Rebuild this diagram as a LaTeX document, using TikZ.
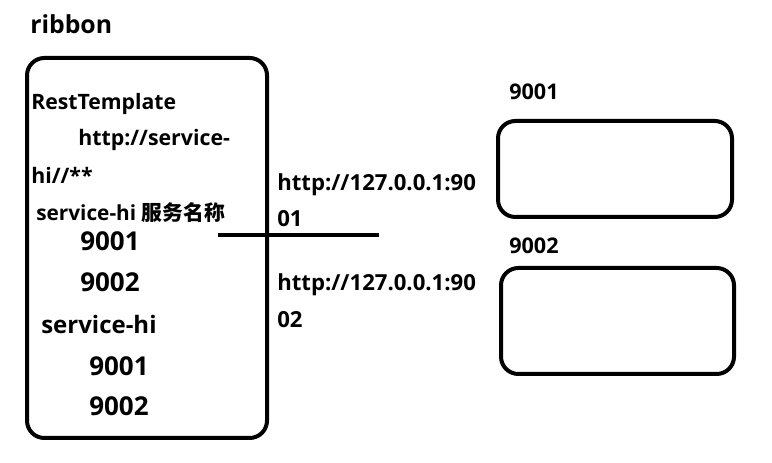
\documentclass[tikz,border=0pt]{standalone}
\usepackage{fontspec}
\setmainfont{Open Sans}
\newfontfamily\cjk{Noto Sans CJK SC}
\newcommand{\fsz}[1]{\bfseries\fontsize{#1}{#1}\selectfont}
\begin{document}
\begin{tikzpicture}[x=0.75pt,y=-0.75pt,
  txt/.style={anchor=west, inner sep=0pt, font=\fsz{16}},
  numtxt/.style={anchor=west, inner sep=0pt, font=\fsz{19.5}},
  iptxt/.style={anchor=west, inner sep=0pt, font=\fsz{16.6}},
  smalltxt/.style={anchor=west, inner sep=0pt, font=\fsz{16.2}},
  roundbox/.style={draw, line width=3pt, rounded corners=13pt, inner sep=0pt}]
\useasboundingbox (0,0) rectangle (772,463);
% boxes
\node[roundbox, minimum width=180pt, minimum height=285pt] (ribbonbox) at (147,248) {};
\node[roundbox, minimum width=175.5pt, minimum height=72pt] (srv1) at (615,169) {};
\node[roundbox, minimum width=174.75pt, minimum height=79.5pt] (srv2) at (617.5,321) {};
% line
\coordinate (ls) at (218,235);
\coordinate (le) at (379,235);
\draw[line width=3pt] (ls) -- (le);
% texts
\node[txt, font=\fsz{18.6}] (ribbon) at (30,24) {ribbon};
\node[txt, font=\fsz{15.9}] (rt) at (31,104) {RestTemplate};
\node[txt] (url1) at (78,140) {http://service-};
\node[txt] (url2) at (31,175) {hi//**};
\node[txt, font=\fsz{15.6}] (svcname) at (36,213) {service-hi {\cjk\bfseries 服务名称}};
\node[numtxt] (p1) at (80,241) {9001};
\node[numtxt] (p2) at (80,282) {9002};
\node[txt, font=\fsz{18}] (svc) at (41,325) {service-hi};
\node[numtxt] (p3) at (89,366) {9001};
\node[numtxt] (p4) at (89,406) {9002};
\node[iptxt] (ip1a) at (277,185) {http://127.0.0.1:90};
\node[iptxt] (ip1b) at (277,219) {01};
\node[iptxt] (ip2a) at (277,285) {http://127.0.0.1:90};
\node[iptxt] (ip2b) at (277,320) {02};
\node[smalltxt] (l1) at (509,92) {9001};
\node[smalltxt] (l2) at (509,246) {9002};
\end{tikzpicture}
\end{document}
